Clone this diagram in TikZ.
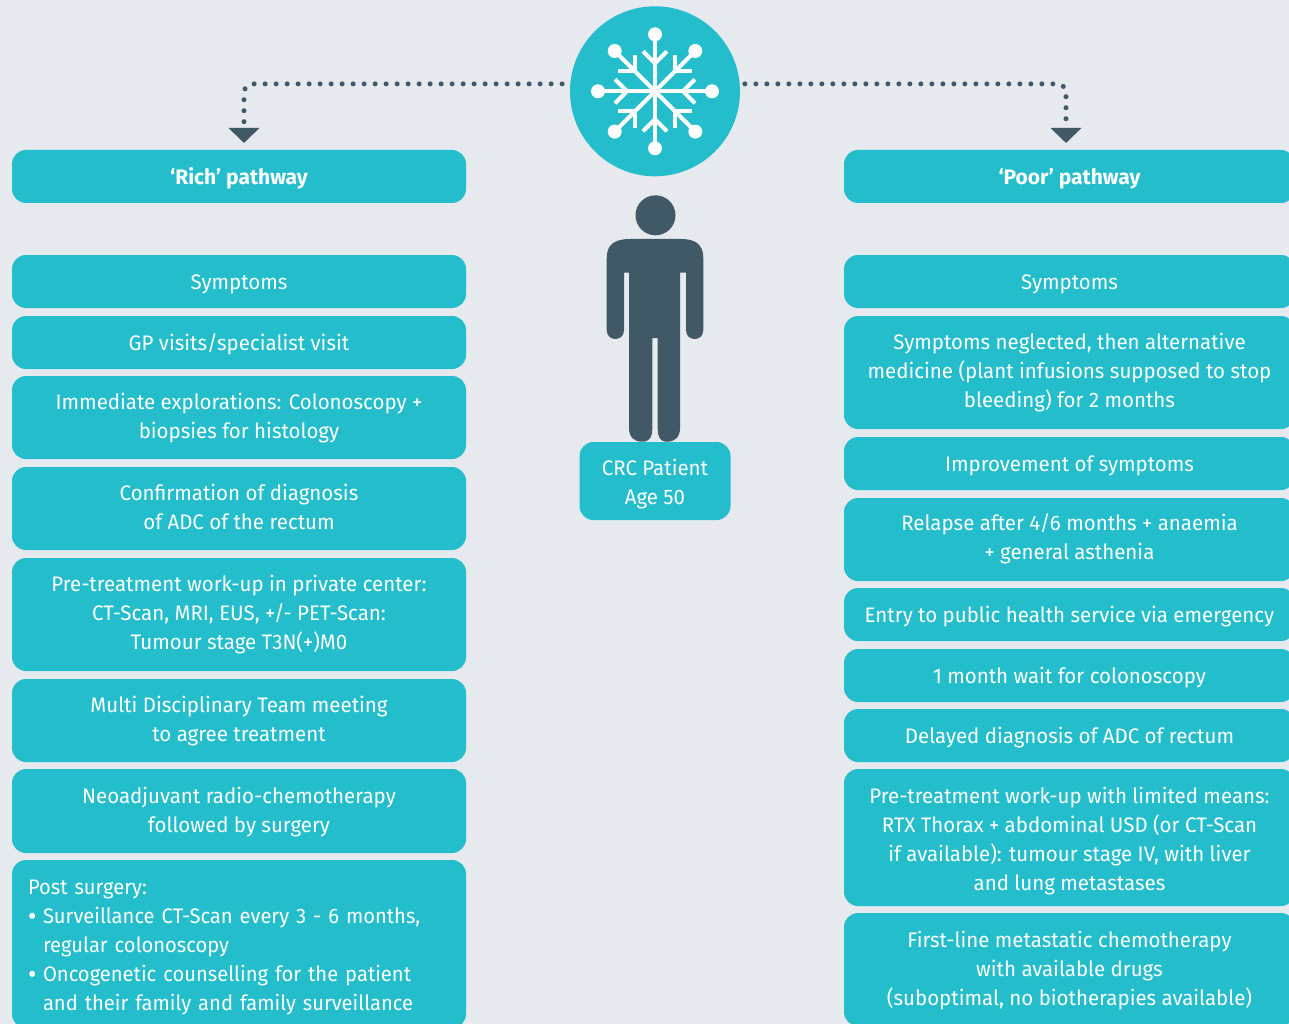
\documentclass[tikz,border=0pt]{standalone}
\usepackage{fontspec}
\setmainfont[FakeStretch=0.975]{Fira Sans}
\newfontfamily\headfont{Fira Sans}
\newfontfamily\listfont[FakeStretch=0.96]{Fira Sans}
\usetikzlibrary{arrows.meta}
\definecolor{pagegrey}{HTML}{E6E9EE}
\definecolor{teal}{HTML}{24BDCB}
\definecolor{slate}{HTML}{415866}
\newcommand{\bigbullet}{\makebox[15pt][l]{\raisebox{-2pt}{\fontsize{27}{29}\selectfont•}}}
\newcommand{\topline}[1]{\rule{0pt}{#1pt}}
\begin{document}
\begin{tikzpicture}[x=1pt,y=-1pt,
  pathbox/.style = {shape=rectangle, rounded corners=14pt, fill=teal, text=white,
    minimum width=454pt, inner sep=0pt, align=center,
    font=\fontsize{21}{29}\selectfont,
    execute at begin node={\rule{0pt}{22pt}}, execute at end node={\rule[-6pt]{0pt}{6pt}}},
  poorbox/.style = {pathbox, minimum width=451pt},
  headbox/.style = {minimum height=53pt, font=\headfont\fontsize{21}{29}\selectfont\bfseries},
  dotline/.style = {slate, line width=5pt, line cap=round, rounded corners=9pt,
    dash pattern=on 0pt off 11pt, shorten <=8pt, -{Triangle[width=30pt,length=15pt]}}]
  \clip (0,0) rectangle (1289,1024);
  \useasboundingbox (0,0) rectangle (1289,1024);
  \fill[pagegrey] (0,0) rectangle (1289,1024);

  % top circle with flake
  \node[circle, fill=teal, minimum size=170pt, inner sep=0pt] (snow) at (655,91.3) {};
  \coordinate (richtip) at (244,143);
  \coordinate (poortip) at (1066,143);
  \draw[dotline] (snow.175) -| (richtip);
  \draw[dotline, shorten <=5pt] (snow.5) -| (poortip);
  \foreach \a in {0,45,...,315} {
    \begin{scope}[shift={(snow.center)}, rotate=\a]
      \draw[white, line width=4pt] (0,0) -- (0,-57);
      \draw[white, line width=4pt] (-12,-40) -- (0,-28) -- (12,-40);
      \fill[white] (0,-57) circle (7);
    \end{scope}
  }

  % patient
  \fill[slate] (655.5,215.3) circle (20);
  \fill[slate] (630,239) -- (681,239) .. controls (696,239) and (703.3,245) .. (703.3,258)
    -- (703.3,330) .. controls (703.3,336) and (699,339) .. (695,339)
    .. controls (690,339) and (686,336) .. (686,330) -- (686,272.7) -- (680,272.7)
    -- (680,428) .. controls (680,437) and (675,441.7) .. (667,441.7)
    .. controls (660,441.7) and (657.7,437) .. (657.7,428) -- (657.7,338) -- (652.3,338)
    -- (652.3,428) .. controls (652.3,437) and (650,441.7) .. (642,441.7)
    .. controls (634,441.7) and (629,437) .. (629,428) -- (629,272.7) -- (624,272.7)
    -- (624,330) .. controls (624,336) and (620,339) .. (615,339)
    .. controls (611,339) and (606.7,336) .. (606.7,330) -- (606.7,258)
    .. controls (606.7,245) and (614,239) .. (630,239) -- cycle;
  \node[pathbox, minimum width=151pt, minimum height=78pt] (patient) at (655,481) {\topline{23.5}CRC Patient\\Age 50};

  % rich pathway
  \node[pathbox, headbox] (rich0) at (239,176.5) {‘Rich’ pathway};
  \node[pathbox, minimum height=53pt] (rich1) at (239,281.5) {Symptoms};
  \node[pathbox, minimum height=53pt] (rich2) at (239,342.5) {GP visits/specialist visit};
  \node[pathbox, minimum height=83pt] (rich3) at (239,417.5) {\topline{19.5}Immediate explorations: Colonoscopy +\\biopsies for histology};
  \node[pathbox, minimum height=83pt] (rich4) at (239,508.5) {\topline{19.5}Confirmation of diagnosis\\of ADC of the rectum};
  \node[pathbox, minimum height=113pt] (rich5) at (239,614.5) {\topline{17.5}Pre-treatment work-up in private center:\\CT-Scan, MRI, EUS, +/- PET-Scan:\\Tumour stage T3N(+)M0};
  \node[pathbox, minimum height=83pt] (rich6) at (239,720.5) {\topline{19.5}Multi Disciplinary Team meeting\\to agree treatment};
  \node[pathbox, minimum height=84pt] (rich7) at (239,811) {\topline{20.5}Neoadjuvant radio-chemotherapy\\followed by surgery};
  \node[pathbox, minimum height=168pt, align=left, inner xsep=16pt, text width=422pt, font=\listfont\fontsize{21}{29}\selectfont] (rich8) at (239,944)
    {Post surgery:\\\bigbullet Surveillance CT-Scan every 3 - 6 months,\\\hspace*{15pt}regular colonoscopy\\\bigbullet Oncogenetic counselling for the patient\\\hspace*{15pt}and their family and family surveillance};

  % poor pathway
  \node[poorbox, headbox] (poor0) at (1069.5,176.5) {‘Poor’ pathway};
  \node[poorbox, minimum height=53pt] (poor1) at (1069.5,281.5) {Symptoms};
  \node[poorbox, minimum height=113pt] (poor2) at (1069.5,372.5) {\topline{17.5}Symptoms neglected, then alternative\\medicine (plant infusions supposed to stop\\bleeding) for 2 months};
  \node[poorbox, minimum height=53pt] (poor3) at (1069.5,463.5) {Improvement of symptoms};
  \node[poorbox, minimum height=83pt] (poor4) at (1069.5,539.5) {\topline{17.5}Relapse after 4/6 months + anaemia\\+ general asthenia};
  \node[poorbox, minimum height=53pt] (poor5) at (1069.5,614.5) {Entry to public health service via emergency};
  \node[poorbox, minimum height=53pt] (poor6) at (1069.5,675.5) {1 month wait for colonoscopy};
  \node[poorbox, minimum height=53pt] (poor7) at (1069.5,735.5) {Delayed diagnosis of ADC of rectum};
  \node[poorbox, minimum height=137pt] (poor8) at (1069.5,837.5) {\topline{24.5}Pre-treatment work-up with limited means:\\RTX Thorax + abdominal USD (or CT-Scan\\if available): tumour stage IV, with liver\\and lung metastases};
  \node[poorbox, minimum height=113pt] (poor9) at (1069.5,969.5) {\topline{19.5}First-line metastatic chemotherapy\\with available drugs\\(suboptimal, no biotherapies available)};
\end{tikzpicture}
\end{document}
